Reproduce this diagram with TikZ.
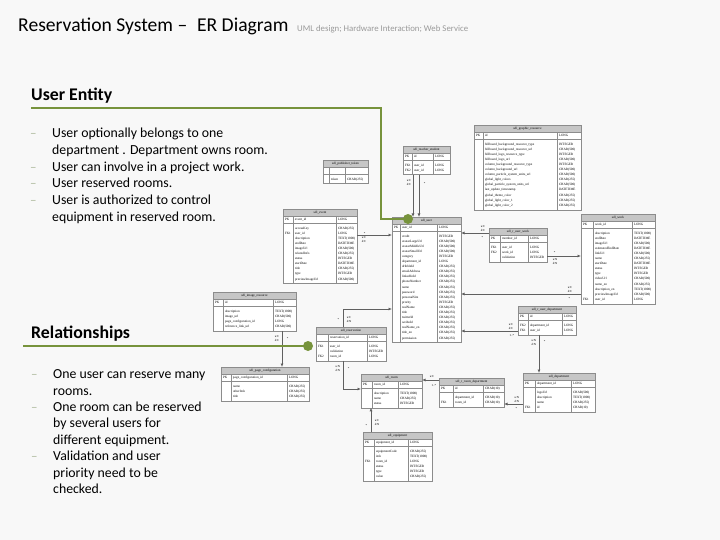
\documentclass[tikz,border=0pt]{standalone}
\usepackage{fontspec}
\setmainfont{Carlito}
\newfontfamily\erfont{Liberation Serif}
\usetikzlibrary{arrows.meta,fit}

\definecolor{slidebg}{HTML}{F8F8F8}
\definecolor{olive}{HTML}{77933C}
\definecolor{dashgray}{HTML}{B0BCA0}
\definecolor{subgray}{HTML}{9A9A9A}
\definecolor{ergray}{HTML}{8C8C8C}
\definecolor{erheadfill}{HTML}{C6C6C6}
\definecolor{linkgray}{HTML}{606060}

\newcommand{\ertiny}{\erfont\fontsize{3.3}{5.1}\selectfont}

\tikzset{
  titletext/.style={font=\fontsize{19.6}{24}\selectfont, inner sep=0pt, anchor=base west},
  subtext/.style={font=\fontsize{8.8}{10}\selectfont, text=subgray, inner sep=0pt, anchor=base west},
  headtext/.style={font=\bfseries\fontsize{17.8}{20}\selectfont, inner sep=0pt, anchor=base west},
  bullettext/.style={font=\fontsize{13.8}{16}\selectfont, inner sep=0pt, anchor=base west},
  bulletdash/.style={font=\fontsize{13}{16}\selectfont, text=dashgray, inner sep=0pt, anchor=base west},
  greenline/.style={draw=olive, line width=2.5pt},
  greendot/.style={circle, fill=olive, inner sep=0pt, minimum size=10pt},
  erhead/.style={draw=ergray, fill=erheadfill, inner sep=0pt, outer sep=0pt, minimum height=7pt, font=\ertiny},
  erkey/.style={draw=ergray, fill=white, inner xsep=0pt, inner ysep=1.2pt, outer sep=0pt, anchor=north west, font=\ertiny},
  erbody/.style={draw=ergray, fill=white, inner xsep=0pt, inner ysep=2pt, outer sep=0pt, anchor=north west, font=\ertiny},
  ergrid/.style={draw=ergray, line width=0.4pt},
  erframe/.style={draw=ergray, inner sep=0pt, outer sep=0pt},
  erlink/.style={draw=linkgray, line width=0.7pt, -{Latex[length=3.5pt,width=3pt]}},
  lab/.style={font=\erfont\fontsize{3}{3.6}\selectfont, inner sep=0.5pt, align=left}
}

% table: name, top left, column widths, title, key row, body rows
\newcommand{\ertable}[8]{%
  \node[erhead, minimum width={(#3+#4+#5)*1pt}, anchor=north west] (#1-h) at (#2) {#6};
  \node[erkey] (#1-k) at (#1-h.south west) {\begin{tabular}{@{\hspace{2pt}}p{\dimexpr#3pt-2pt\relax}@{\hspace{2pt}}p{\dimexpr#4pt-2pt\relax}@{\hspace{2pt}}p{\dimexpr#5pt-2pt\relax}@{}}#7\end{tabular}};
  \node[erbody] (#1-b) at (#1-k.south west) {\begin{tabular}{@{\hspace{2pt}}p{\dimexpr#3pt-2pt\relax}@{\hspace{2pt}}p{\dimexpr#4pt-2pt\relax}@{\hspace{2pt}}p{\dimexpr#5pt-2pt\relax}@{}}#8\end{tabular}};
  \draw[ergrid] ([xshift=#3pt]#1-k.north west) -- ([xshift=#3pt]#1-b.south west);
  \draw[ergrid] ([xshift={(#3+#4)*1pt}]#1-k.north west) -- ([xshift={(#3+#4)*1pt}]#1-b.south west);
  \node[erframe, fit=(#1-h)(#1-b)] (#1) {};
}

\begin{document}
\begin{tikzpicture}[x=1pt,y=-1pt]
  \fill[slidebg] (0,0) rectangle (720,540);
  \useasboundingbox (0,0) rectangle (720,540);

  % title
  \node[titletext] (title) at (18,32) {Reservation System –\enspace ER Diagram};
  \node[subtext] (subtitle) at (297,32) {UML design; Hardware Interaction; Web Service};

  % user entity
  \node[headtext] (userhead) at (31,101) {User Entity};
  \node[bulletdash] (uedash1) at (30,138) {–};
  \node[bullettext] (ue1) at (52,138) {User optionally belongs to one};
  \node[bullettext] (ue2) at (52,155) {department . Department owns room.};
  \node[bulletdash] (uedash2) at (30,172) {–};
  \node[bullettext] (ue3) at (52,172) {User can involve in a project work.};
  \node[bulletdash] (uedash3) at (30,188) {–};
  \node[bullettext] (ue4) at (52,188) {User reserved rooms.};
  \node[bulletdash] (uedash4) at (30,205) {–};
  \node[bullettext] (ue5) at (52,205) {User is authorized to control};
  \node[bullettext] (ue6) at (52,222) {equipment in reserved room.};

  % relationships
  \node[headtext] (relhead) at (31,338) {Relationships};
  \node[bulletdash] (reldash1) at (31,378) {–};
  \node[bullettext] (rel1) at (53,378) {One user can reserve many};
  \node[bullettext] (rel2) at (53,395) {rooms.};
  \node[bulletdash] (reldash2) at (31,411) {–};
  \node[bullettext] (rel3) at (53,411) {One room can be reserved};
  \node[bullettext] (rel4) at (53,427) {by several users for};
  \node[bullettext] (rel5) at (53,444) {different equipment.};
  \node[bulletdash] (reldash3) at (31,460) {–};
  \node[bullettext] (rel6) at (53,460) {Validation and user};
  \node[bullettext] (rel7) at (53,477) {priority need to be};
  \node[bullettext] (rel8) at (53,493) {checked.};

  % tables
  \ertable{publisher}{323,160}{6}{16}{23}{sdl\_publisher\_token}{ & & }{ & token & CHAR(255)}
  \ertable{tstudent}{403,146}{9}{21}{17}{sdl\_teacher\_student}{PK & id & LONG}{FK1 & user\_id & LONG\\ FK2 & user\_id & LONG}
  \ertable{graphic}{474,125}{9}{74}{24}{sdl\_graphic\_resource}{PK & id & LONG}{
     & billboard\_background\_resource\_type & INTEGER\\
     & billboard\_background\_resource\_url & CHAR(500)\\
     & billboard\_logo\_resource\_type & INTEGER\\
     & billboard\_logo\_url & CHAR(500)\\
     & column\_background\_resource\_type & INTEGER\\
     & column\_background\_url & CHAR(500)\\
     & column\_particle\_system\_units\_url & CHAR(500)\\
     & global\_light\_colors & CHAR(255)\\
     & global\_particle\_system\_units\_url & CHAR(500)\\
     & last\_update\_timestamp & DATETIME\\
     & global\_theme\_color & CHAR(255)\\
     & global\_light\_color\_1 & CHAR(255)\\
     & global\_light\_color\_2 & CHAR(255)}
  \ertable{event}{283,209}{10}{43}{21}{sdl\_event}{PK & event\_id & LONG}{
     & accessKey & CHAR(255)\\
    FK1 & user\_id & LONG\\
     & description & TEXT(1000)\\
     & endDate & DATETIME\\
     & imageUrl & CHAR(500)\\
     & relatedInfo & CHAR(255)\\
     & status & INTEGER\\
     & startDate & DATETIME\\
     & title & CHAR(255)\\
     & type & INTEGER\\
     & previewImageUrl & CHAR(500)}
  \ertable{user}{392,217}{8}{37}{24}{sdl\_user}{PK & user\_id & LONG}{
     & credit & INTEGER\\
     & avatarLargeUrl & CHAR(500)\\
     & avatarMiddleUrl & CHAR(500)\\
     & avatarSmallUrl & CHAR(500)\\
     & category & INTEGER\\
     & department\_id & LONG\\
     & dribbleId & CHAR(255)\\
     & emailAddress & CHAR(255)\\
     & linkedInId & CHAR(255)\\
     & phoneNumber & CHAR(255)\\
     & name & CHAR(255)\\
     & password & CHAR(255)\\
     & personalSite & CHAR(255)\\
     & prority & INTEGER\\
     & realName & CHAR(255)\\
     & title & CHAR(255)\\
     & twitterId & CHAR(255)\\
     & weiboId & CHAR(255)\\
     & realName\_en & CHAR(255)\\
     & title\_en & CHAR(255)\\
     & permission & CHAR(255)}
  \ertable{uwork}{489,228}{11}{28}{19}{sdl\_r\_user\_work}{PK & member\_id & LONG}{FK1 & user\_id & LONG\\ FK2 & work\_id & LONG\\ & validation & INTEGER}
  \ertable{work}{581,214}{12}{39}{23}{sdl\_work}{PK & work\_id & LONG}{
     & description & TEXT(1000)\\
     & endDate & DATETIME\\
     & imageUrl & CHAR(500)\\
     & estimatedEndDate & DATETIME\\
     & linkUrl & CHAR(500)\\
     & name & CHAR(255)\\
     & startDate & DATETIME\\
     & status & INTEGER\\
     & type & INTEGER\\
     & videoUrl & CHAR(500)\\
     & name\_en & CHAR(255)\\
     & description\_en & TEXT(1000)\\
     & previewImageUrl & CHAR(500)\\
    FK1 & user\_id & LONG}
  \ertable{imgres}{213,292}{10}{50}{23}{sdl\_image\_resource}{PK & id & LONG}{ & description & TEXT(1000)\\ & image\_url & CHAR(500)\\ & page\_configuration\_id & LONG\\ & reference\_link\_url & CHAR(500)}
  \ertable{reserv}{316,327}{12}{39}{19}{sdl\_reservation}{ & reservation\_id & LONG}{FK1 & user\_id & LONG\\ & validation & INTEGER\\ FK2 & room\_id & LONG}
  \ertable{udept}{518,306}{10}{34}{14}{sdl\_r\_user\_department}{PK & id & LONG}{FK2 & department\_id & LONG\\ FK1 & user\_id & LONG}
  \ertable{pageconf}{221,367}{10}{56}{22}{sdl\_page\_configuration}{PK & page\_configuration\_id & LONG}{ & name & CHAR(255)\\ & otherInfo & CHAR(255)\\ & title & CHAR(255)}
  \ertable{room}{361,374}{11}{26}{24}{sdl\_room}{PK & room\_id & LONG}{ & description & TEXT(1000)\\ & name & CHAR(255)\\ & status & INTEGER}
  \ertable{rdept}{439,378}{14}{30}{21}{sdl\_r\_room\_department}{PK & id & CHAR(10)}{ & department\_id & CHAR(10)\\ FK1 & room\_id & CHAR(10)}
  \ertable{dept}{523,373}{12}{36}{24}{sdl\_department}{PK & department\_id & LONG}{ & logoUrl & CHAR(500)\\ & description & TEXT(1000)\\ & name & CHAR(255)\\ FK1 & id & CHAR(10)}
  \ertable{equip}{363,432}{11}{34}{24}{sdl\_equipment}{PK & equipment\_id & LONG}{ & equipmentCode & CHAR(255)\\ & info & TEXT(1000)\\ FK1 & room\_id & LONG\\ & status & INTEGER\\ & type & INTEGER\\ & value & CHAR(255)}

  % links into sdl_user
  \draw[erlink] ([xshift=10pt]tstudent.south west) -- ([xshift=10pt]tstudent.south west |- user.north)
    node[lab, at start, anchor=north east, yshift=-4pt, xshift=-1pt] {u:C\\d:C};
  \draw[erlink] ([xshift=16pt]tstudent.south west) -- ([xshift=16pt]tstudent.south west |- user.north)
    node[lab, at start, anchor=north west, yshift=-7pt, xshift=4pt] {*};
  \draw[erlink] ([yshift=-26pt]event.north east) -- ([yshift=-26pt]event.north east -| user.west)
    node[lab, at start, anchor=south west, xshift=6pt] {*}
    node[lab, at start, anchor=north west, xshift=4pt, yshift=-1pt] {u:C\\d:C};
  \draw[erlink] ([yshift=-5pt]uwork.north west) -- ([yshift=-5pt]uwork.north west -| user.east)
    node[lab, at start, anchor=south east, xshift=-3pt, yshift=1pt] {u:C\\d:C}
    node[lab, at start, anchor=north east, xshift=-5pt, yshift=-3pt] {*};
  \draw[erlink] ([yshift=-80pt]work.north west) -- ([yshift=-80pt]work.north west -| user.east)
    node[lab, at start, anchor=south east, xshift=-8pt, yshift=1pt] {u:C\\d:C}
    node[lab, at start, anchor=north east, xshift=-10pt, yshift=-3pt] {*};
  \draw[erlink] ([yshift=-25pt]udept.north west) -- ([yshift=-25pt]udept.north west -| user.east)
    node[lab, at start, anchor=south east, xshift=-4pt, yshift=1pt] {u:C\\d:C}
    node[lab, at start, anchor=north east, xshift=-3pt, yshift=-3pt] {1..*};
  \draw[erlink] ([xshift=27pt]reserv.north west) |- ([yshift=-92pt]user.north west)
    node[lab, at start, anchor=south east, xshift=-3pt, yshift=6pt] {*}
    node[lab, at start, anchor=south west, xshift=3pt, yshift=4pt] {u:C\\d:N};

  % other links
  \draw[erlink] ([yshift=-28pt]uwork.north east) -- ([yshift=-28pt]uwork.north east -| work.west)
    node[lab, at start, anchor=south west, xshift=6pt, yshift=2pt] {*}
    node[lab, at start, anchor=north west, xshift=5pt, yshift=-2pt] {u:N\\d:N};
  \draw[erlink] ([xshift=21pt]udept.south west) -- ([xshift=21pt]udept.south west |- dept.north)
    node[lab, at start, anchor=north east, xshift=-2pt, yshift=-4pt] {u:N\\d:N}
    node[lab, at start, anchor=north west, xshift=4pt, yshift=-5pt] {*};
  \draw[erlink] ([yshift=-31pt]dept.north west) -- ([yshift=-31pt]dept.north west -| rdept.east)
    node[lab, at start, anchor=south east, xshift=-3pt, yshift=1pt] {u:N\\d:N}
    node[lab, at start, anchor=north east, xshift=-5pt, yshift=-3pt] {*};
  \draw[erlink] ([yshift=-2pt]rdept.north west) -- ([yshift=-2pt]rdept.north west -| room.east)
    node[lab, at start, anchor=south east, xshift=-4pt, yshift=2pt] {u:C}
    node[lab, at start, anchor=north east, xshift=-2pt, yshift=-4pt] {1..*};
  \draw[erlink] ([xshift=8pt]equip.north west) -- ([xshift=8pt]equip.north west |- room.south)
    node[lab, at start, anchor=south east, xshift=-3pt, yshift=5pt] {*}
    node[lab, at start, anchor=south west, xshift=3pt, yshift=6pt] {u:C\\d:N};
  \draw[erlink] ([xshift=27pt]reserv.south west) |- ([yshift=-15pt]room.north west)
    node[lab, at start, anchor=north east, xshift=-2pt, yshift=-4pt] {u:N\\d:N}
    node[lab, at start, anchor=north west, xshift=4pt, yshift=-6pt] {*};
  \draw[erlink] ([xshift=69pt]imgres.south west) -- ([xshift=69pt]imgres.south west |- pageconf.north)
    node[lab, at start, anchor=north east, xshift=-2pt, yshift=-4pt] {u:C\\d:C}
    node[lab, at start, anchor=north west, xshift=4pt, yshift=-6pt] {*};

  % green pointers
  \node[greendot] (userdot) at (408,219) {};
  \node[greendot] (reldot) at (308,346) {};
  \coordinate (userline) at (31,108);
  \coordinate (userbend) at (381,219);
  \coordinate (relline) at (23,346);
  \draw[greenline] (userline) -| (userbend) -- (userdot.center);
  \draw[greenline] (relline) -- (reldot.center);
\end{tikzpicture}
\end{document}
